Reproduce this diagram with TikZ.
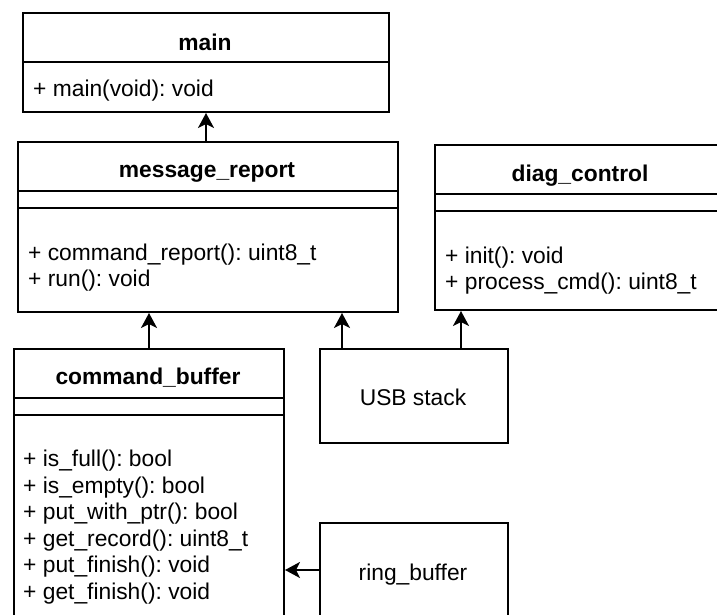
\documentclass[tikz,border=0pt]{standalone}
\usepackage{fontspec}
\setmainfont{Liberation Sans}
\usetikzlibrary{arrows.meta}
\frenchspacing
\begin{document}
\begin{tikzpicture}[x=1pt,y=-1pt,
  umlbox/.style={draw, line width=2pt, rectangle, inner sep=0pt, anchor=north west},
  divider/.style={line width=2pt},
  txt/.style={font=\fontsize{22.8}{26}\selectfont, inner sep=0pt, text height=19.6pt, text depth=2.8pt},
  title/.style={txt, font=\bfseries\fontsize{22.8}{26}\selectfont},
  member/.style={txt, anchor=west},
  arr/.style={line width=2pt, -{Stealth[length=15pt,width=16pt,inset=4pt]}}]
\path[use as bounding box, clip] (0,0) rectangle (717,615);
\fill[white] (0,0) rectangle (717,615);

% class: main
\node[umlbox, minimum width=366pt, minimum height=99pt] (main) at (22,12) {};
\draw[divider] (main.west |- 0,62) -- (main.east |- 0,62);
\node[title] (mainT) at (205,42) {main};
\node[member] (mainM) at (33,88) {+ main(void): void};

% class: message_report
\node[umlbox, minimum width=380pt, minimum height=170pt] (mr) at (17,141) {};
\draw[divider] (mr.west |- 0,191) -- (mr.east |- 0,191);
\draw[divider] (mr.west |- 0,208) -- (mr.east |- 0,208);
\node[title] (mrT) at (207,169) {message\_report};
\node[member] (mrM1) at (28,252) {+ command\_report(): uint8\_t};
\node[member] (mrM2) at (28,278) {+ run(): void};

% class: diag_control
\node[umlbox, minimum width=292pt, minimum height=165pt] (dc) at (434,144) {};
\draw[divider] (dc.west |- 0,194) -- (dc.east |- 0,194);
\draw[divider] (dc.west |- 0,211) -- (dc.east |- 0,211);
\node[title] (dcT) at (580,173) {diag\_control};
\node[member] (dcM1) at (445,255) {+ init(): void};
\node[member] (dcM2) at (445,281) {+ process\_cmd(): uint8\_t};

% class: command_buffer
\node[umlbox, minimum width=270pt, minimum height=300pt] (cb) at (13,348) {};
\draw[divider] (cb.west |- 0,398) -- (cb.east |- 0,398);
\draw[divider] (cb.west |- 0,415) -- (cb.east |- 0,415);
\node[title] (cbT) at (148,376) {command\_buffer};
\node[member] (cbM1) at (23,458.5) {+ is\_full(): bool};
\node[member] (cbM2) at (23,485) {+ is\_empty(): bool};
\node[member] (cbM3) at (23,511.5) {+ put\_with\_ptr(): bool};
\node[member] (cbM4) at (23,538) {+ get\_record(): uint8\_t};
\node[member] (cbM5) at (23,564.5) {+ put\_finish(): void};
\node[member] (cbM6) at (23,591) {+ get\_finish(): void};

% plain blocks
\node[umlbox, minimum width=188pt, minimum height=94pt] (usb) at (319,348) {};
\node[txt] (usbT) at (413,397) {USB stack};
\node[umlbox, minimum width=188pt, minimum height=130pt] (ring) at (319,522) {};
\node[txt] (ringT) at (413,572) {ring\_buffer};

% dependencies
\draw[arr] (main.south |- mr.north) -- (main.south);
\draw[arr] (cb.north) -- (cb.north |- mr.south);
\draw[arr] ([xshift=23pt]usb.north west) -- ([xshift=23pt]usb.north west |- mr.south);
\draw[arr] ([xshift=142pt]usb.north west) -- ([xshift=142pt]usb.north west |- dc.south);
\draw[arr] ([yshift=-48pt]ring.north west) -- ([yshift=-48pt]ring.north west -| cb.east);
\end{tikzpicture}
\end{document}
